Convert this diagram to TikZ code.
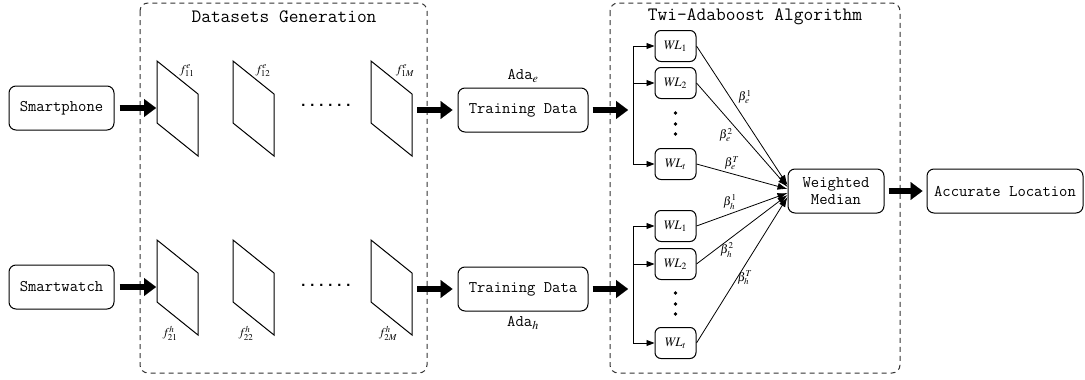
\documentclass[tikz,border=0pt]{standalone}
\usepackage{mathptmx}
\usepackage[no-math]{fontspec}
\setmainfont{Liberation Serif}
\setmonofont{Latin Modern Mono}
\newfontfamily\dotfont{Liberation Mono}
\usetikzlibrary{arrows.meta}

\begin{document}
\begin{tikzpicture}[x=1pt,y=-1pt,
  every node/.style={inner sep=0pt},
  devbox/.style={draw, rounded corners=7pt, line width=1pt, align=center,
    font=\fontsize{16.2}{17}\selectfont\ttfamily, minimum height=44pt},
  wlbox/.style={draw, rounded corners=6pt, line width=1pt,
    minimum width=41pt, minimum height=31pt, font=\fontsize{13}{15}\selectfont},
  group/.style={draw=black!80, line width=1pt, dash pattern=on 5pt off 4pt, rounded corners=8pt},
  grouptitle/.style={font=\fontsize{18.9}{20}\selectfont\ttfamily},
  sheet/.style={draw, line width=1pt, line join=miter},
  bigarrow/.style={line width=6pt, -{Triangle[length=12pt,width=18pt,line width=0.1pt]}},
  feed/.style={line width=0.9pt, -{Triangle[length=8pt,width=6pt]}},
  weight/.style={line width=0.8pt, -{Latex[length=10pt,width=7pt]}},
  lbl/.style={font=\fontsize{12}{14}\selectfont},
  ada/.style={font=\fontsize{16.2}{17}\selectfont\ttfamily},
  ellipsis/.style={font=\fontsize{15}{17}\selectfont\dotfont\bfseries},
]
\useasboundingbox (0,0) rectangle (1085,380);

% dashed groups
\draw[group] (140,3) rectangle (427,373);
\draw[group] (610,3) rectangle (900,373);
\node[grouptitle] (tgen) at (284,17) {Datasets Generation};
\node[grouptitle] (talg) at (755,17) {Twi-Adaboost Algorithm};

% sources
\node[devbox, minimum width=105pt] (phone) at (61.5,108) {Smartphone};
\node[devbox, minimum width=105pt] (watch) at (61.5,287) {Smartwatch};

% feature sheets, upper and lower rows
\foreach \x in {157,233,371}{
  \draw[sheet] (\x,61) -- ++(41,33) -- ++(0,62) -- ++(-41,-33) -- cycle;
  \draw[sheet] (\x,240) -- ++(41,33) -- ++(0,62) -- ++(-41,-33) -- cycle;
}
\coordinate (pin1) at (156,108);
\coordinate (pout1) at (413,110);
\coordinate (pin2) at (156,287);
\coordinate (pout2) at (413,289);

\node[lbl] (fe11) at (187,71) {$f^{e}_{11}$};
\node[lbl] (fe12) at (263,71) {$f^{e}_{12}$};
\node[lbl] (fe1M) at (405,71) {$f^{e}_{1M}$};
\node[lbl] (fh21) at (170,333) {$f^{h}_{21}$};
\node[lbl] (fh22) at (246,333) {$f^{h}_{22}$};
\node[lbl] (fh2M) at (388,333) {$f^{h}_{2M}$};

\node[ellipsis] (dots1) at (326,105) {......};
\node[ellipsis] (dots2) at (326,285) {......};

% training data
\node[devbox, minimum width=130pt] (tdA) at (523,110) {Training Data};
\node[devbox, minimum width=130pt] (tdB) at (523,289) {Training Data};
\node[ada] (adae) at (523,76) {Ada$_{e}$};
\node[ada] (adah) at (523,323) {Ada$_{h}$};

% thick arrows
\draw[bigarrow, shorten <=5pt] (phone.east) -- (pin1);
\draw[bigarrow, shorten <=5pt] (watch.east) -- (pin2);
\draw[bigarrow, shorten <=4pt, shorten >=5pt] (pout1) -- (pout1 -| tdA.west);
\draw[bigarrow, shorten <=4pt, shorten >=5pt] (pout2) -- (pout2 -| tdB.west);

% weak learners
\node[wlbox] (wa1) at (675.5,46) {$W\!L_{1}$};
\node[wlbox] (wa2) at (675.5,83) {$W\!L_{2}$};
\node[wlbox] (wat) at (675.5,164) {$W\!L_{t}$};
\node[wlbox] (wb1) at (675.5,226) {$W\!L_{1}$};
\node[wlbox] (wb2) at (675.5,264) {$W\!L_{2}$};
\node[wlbox] (wbt) at (675.5,343) {$W\!L_{t}$};
\foreach \y in {113,124,134,293,304,314}{
  \fill (675.5,\y) circle (1.8pt);
}

\coordinate (ba) at (633,110);
\coordinate (bb) at (633,289);
\draw[bigarrow, shorten <=4pt, shorten >=5pt] (tdA.east) -- (ba);
\draw[bigarrow, shorten <=4pt, shorten >=5pt] (tdB.east) -- (bb);
\draw[line width=0.9pt] (wa1.west -| ba) -- (wat.west -| ba);
\draw[line width=0.9pt] (wb1.west -| bb) -- (wbt.west -| bb);
\foreach \n in {wa1,wa2,wat}{ \draw[feed] (\n.west -| ba) -- (\n.west); }
\foreach \n in {wb1,wb2,wbt}{ \draw[feed] (\n.west -| bb) -- (\n.west); }

% combination
\node[devbox, minimum width=96pt] (wm) at (836,191) {Weighted\\Median};
\node[devbox, minimum width=156pt] (loc) at (1005,191) {Accurate Location};
\draw[bigarrow, shorten <=4pt, shorten >=4pt] (wm.east) -- (loc.west);

\draw[weight] (wa1.east) -- ([yshift=6pt]wm.west);
\draw[weight] (wa2.east) -- ([yshift=4pt]wm.west);
\draw[weight] (wat.east) -- ([yshift=2pt]wm.west);
\draw[weight] (wb1.east) -- ([yshift=-2pt]wm.west);
\draw[weight] (wb2.east) -- ([yshift=-4pt]wm.west);
\draw[weight] (wbt.east) -- ([yshift=-6pt]wm.west);

\node[lbl] (be1) at (745,97) {$\beta^{1}_{e}$};
\node[lbl] (be2) at (726,135) {$\beta^{2}_{e}$};
\node[lbl] (beT) at (732,163) {$\beta^{T}_{e}$};
\node[lbl] (bh1) at (730,202) {$\beta^{1}_{h}$};
\node[lbl] (bh2) at (727,250) {$\beta^{2}_{h}$};
\node[lbl] (bhT) at (745,278) {$\beta^{T}_{h}$};
\end{tikzpicture}
\end{document}
